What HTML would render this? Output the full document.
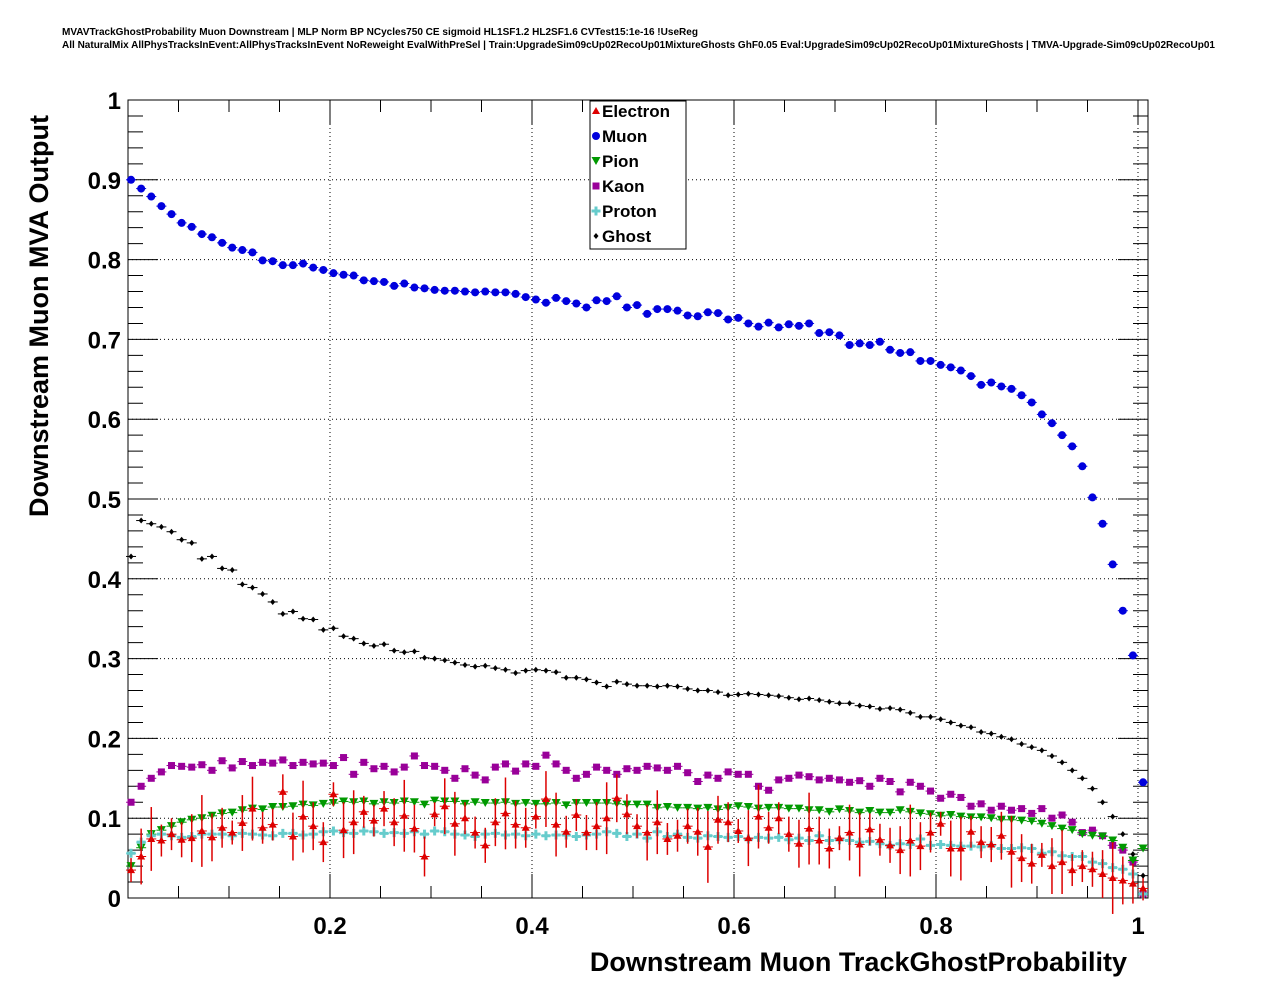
<!DOCTYPE html>
<html><head><meta charset="utf-8"><style>
body{margin:0;background:#fff;font-family:"Liberation Sans",sans-serif}
svg text{font-family:"Liberation Sans",sans-serif;font-weight:bold}
</style></head><body>
<svg id="c" width="1276" height="996" viewBox="0 0 1276 996">
<text x="62" y="35" font-size="10" textLength="636" lengthAdjust="spacingAndGlyphs">MVAVTrackGhostProbability Muon Downstream | MLP Norm BP NCycles750 CE sigmoid HL1SF1.2 HL2SF1.6 CVTest15:1e-16 !UseReg</text>
<text x="62" y="48" font-size="10" textLength="1153" lengthAdjust="spacingAndGlyphs">All NaturalMix AllPhysTracksInEvent:AllPhysTracksInEvent NoReweight EvalWithPreSel | Train:UpgradeSim09cUp02RecoUp01MixtureGhosts GhF0.05 Eval:UpgradeSim09cUp02RecoUp01MixtureGhosts | TMVA-Upgrade-Sim09cUp02RecoUp01</text>
<g id="grid"></g><g id="axes"></g><g id="marks"></g>
<text x="1127" y="971" font-size="27" text-anchor="end">Downstream Muon TrackGhostProbability</text>
<text transform="translate(48,517) rotate(-90)" font-size="27">Downstream Muon MVA Output</text>
<g>
<rect x="590" y="101" width="96" height="148" fill="#fff" stroke="#000" stroke-width="1"/>
<g id="leg"></g></g>
</svg>
<script>
const xTicks=[0.2,0.4,0.6,0.8,1];
const xTickLabels=["0.2","0.4","0.6","0.8","1"];
const yTicks=[0,0.1,0.2,0.3,0.4,0.5,0.6,0.7,0.8,0.9,1];
const yTickLabels=["0","0.1","0.2","0.3","0.4","0.5","0.6","0.7","0.8","0.9","1"];
const muon=[0.90,0.889,0.879,0.867,0.857,0.846,0.841,0.832,0.828,0.821,0.815,0.812,0.809,0.799,0.798,0.793,0.793,0.795,0.790,0.787,0.783,0.781,0.780,0.774,0.773,0.772,0.767,0.770,0.765,0.764,0.762,0.761,0.761,0.760,0.759,0.760,0.759,0.759,0.757,0.753,0.750,0.746,0.752,0.748,0.745,0.740,0.749,0.748,0.754,0.740,0.743,0.732,0.738,0.738,0.736,0.730,0.729,0.734,0.733,0.725,0.727,0.720,0.716,0.721,0.715,0.719,0.717,0.720,0.708,0.709,0.705,0.693,0.695,0.693,0.697,0.687,0.683,0.684,0.673,0.673,0.668,0.665,0.661,0.654,0.643,0.646,0.641,0.638,0.630,0.621,0.606,0.595,0.580,0.566,0.541,0.502,0.469,0.418,0.360,0.304,0.145];
const ghost=[0.428,0.473,0.469,0.465,0.459,0.449,0.445,0.425,0.428,0.413,0.411,0.393,0.389,0.381,0.371,0.356,0.359,0.350,0.349,0.336,0.338,0.328,0.325,0.319,0.316,0.318,0.310,0.308,0.309,0.301,0.300,0.298,0.295,0.292,0.290,0.291,0.288,0.286,0.282,0.285,0.286,0.285,0.283,0.276,0.276,0.274,0.270,0.265,0.271,0.268,0.266,0.266,0.265,0.266,0.265,0.262,0.260,0.260,0.258,0.254,0.255,0.256,0.255,0.254,0.253,0.251,0.249,0.250,0.248,0.246,0.244,0.244,0.241,0.240,0.237,0.238,0.236,0.232,0.227,0.227,0.224,0.220,0.216,0.214,0.208,0.206,0.202,0.199,0.193,0.189,0.185,0.178,0.170,0.160,0.150,0.137,0.120,0.102,0.080,0.055,0.028];
const kaon=[0.120,0.140,0.150,0.158,0.166,0.165,0.164,0.167,0.160,0.172,0.163,0.171,0.166,0.170,0.169,0.173,0.166,0.170,0.168,0.169,0.166,0.176,0.155,0.170,0.162,0.165,0.158,0.164,0.178,0.166,0.165,0.160,0.150,0.162,0.154,0.148,0.164,0.168,0.159,0.168,0.165,0.179,0.168,0.160,0.150,0.155,0.164,0.160,0.155,0.162,0.160,0.165,0.163,0.160,0.165,0.157,0.146,0.154,0.150,0.158,0.155,0.155,0.140,0.135,0.148,0.150,0.154,0.152,0.148,0.150,0.148,0.145,0.147,0.140,0.150,0.146,0.133,0.145,0.140,0.134,0.125,0.130,0.126,0.115,0.118,0.110,0.115,0.110,0.112,0.106,0.112,0.100,0.104,0.095,0.082,0.085,0.078,0.066,0.060,0.045,0.005];
const pion=[0.040,0.063,0.080,0.085,0.090,0.095,0.098,0.100,0.103,0.106,0.107,0.110,0.112,0.111,0.114,0.114,0.115,0.117,0.116,0.118,0.119,0.121,0.120,0.121,0.118,0.120,0.119,0.121,0.120,0.117,0.122,0.121,0.121,0.118,0.120,0.119,0.119,0.120,0.118,0.119,0.118,0.118,0.119,0.116,0.119,0.119,0.119,0.119,0.118,0.117,0.117,0.117,0.113,0.114,0.113,0.113,0.112,0.113,0.111,0.113,0.115,0.114,0.112,0.113,0.113,0.112,0.112,0.110,0.110,0.108,0.111,0.109,0.107,0.109,0.107,0.107,0.110,0.108,0.106,0.105,0.103,0.104,0.102,0.101,0.101,0.100,0.098,0.098,0.097,0.096,0.093,0.090,0.087,0.085,0.080,0.078,0.077,0.072,0.063,0.047,0.062];
const proton=[0.056,0.070,0.078,0.080,0.078,0.076,0.077,0.080,0.080,0.080,0.078,0.081,0.080,0.079,0.078,0.081,0.081,0.079,0.080,0.083,0.084,0.082,0.081,0.084,0.083,0.081,0.082,0.081,0.083,0.080,0.084,0.083,0.080,0.079,0.077,0.080,0.081,0.079,0.080,0.078,0.080,0.078,0.079,0.079,0.077,0.079,0.080,0.083,0.081,0.077,0.080,0.075,0.083,0.077,0.080,0.076,0.075,0.078,0.077,0.076,0.077,0.074,0.076,0.075,0.076,0.073,0.075,0.072,0.078,0.072,0.073,0.072,0.070,0.071,0.068,0.066,0.068,0.067,0.074,0.066,0.067,0.066,0.065,0.065,0.064,0.066,0.062,0.062,0.063,0.062,0.056,0.058,0.053,0.052,0.052,0.045,0.043,0.038,0.036,0.030,0.005];
const electron=[0.035,0.052,0.074,0.072,0.080,0.073,0.075,0.084,0.076,0.088,0.082,0.094,0.112,0.088,0.092,0.133,0.077,0.102,0.090,0.070,0.130,0.085,0.095,0.108,0.097,0.112,0.095,0.103,0.087,0.052,0.105,0.115,0.093,0.100,0.082,0.066,0.095,0.106,0.092,0.088,0.102,0.124,0.092,0.083,0.104,0.082,0.090,0.100,0.125,0.105,0.090,0.082,0.095,0.074,0.078,0.090,0.083,0.064,0.098,0.095,0.084,0.075,0.102,0.088,0.100,0.080,0.068,0.087,0.072,0.062,0.075,0.082,0.067,0.086,0.073,0.066,0.060,0.072,0.065,0.082,0.093,0.062,0.062,0.083,0.070,0.067,0.078,0.058,0.050,0.043,0.054,0.040,0.045,0.035,0.040,0.036,0.030,0.025,0.022,0.018,0.012];
const electronErr=[0.015,0.02,0.03,0.025,0.04,0.022,0.03,0.035,0.02,0.045];
const x0=0.003, binW=0.01002;
const L=128,R=1148,T=100,B=898;
const X=v=>L+v*1010, Y=v=>B-v*(B-T);
const NS="http://www.w3.org/2000/svg";
function mk(tag,at,parent){const e=document.createElementNS(NS,tag);for(const k in at)e.setAttribute(k,at[k]);parent.appendChild(e);return e;}
const grid=document.getElementById('grid'),axes=document.getElementById('axes'),marks=document.getElementById('marks');
xTicks.forEach((t,i)=>{
 const g=mk('line',{x1:X(t),x2:X(t),y1:T,y2:B,stroke:'#000','stroke-dasharray':'1,3','stroke-width':1},grid);
 
 const tx=mk('text',{x:X(t),y:934,'font-size':24,'text-anchor':'middle'},axes);tx.textContent=xTickLabels[i];
 
});
yTicks.forEach((t,i)=>{
 if(t>0&&t<1){const g=mk('line',{x1:L,x2:R,y1:Y(t),y2:Y(t),stroke:'#000','stroke-dasharray':'1,3','stroke-width':1},grid);
 }
 const tx=mk('text',{x:121,y:Y(t)+9,'font-size':24,'text-anchor':'end'},axes);tx.textContent=yTickLabels[i];
 
});
let p='';
for(let v=0.05;v<1.01;v+=0.05){const big=Math.abs(v*5-Math.round(v*5))<1e-6;p+=`M${X(v)},${B}v${big?-24:-12}M${X(v)},${T}v${big?24:12}`;}
for(let v=0;v<=1.0001;v+=0.02){const big=Math.abs(v*10-Math.round(v*10))<1e-6;p+=`M${L},${Y(v)}h${big?30:15}M${R},${Y(v)}h${big?-30:-15}`;}
const tk=mk('path',{d:p,stroke:'#000','stroke-width':1,fill:'none'},axes);

const fr=mk('rect',{x:L,y:T,width:R-L,height:B-T,fill:'none',stroke:'#000','stroke-width':1},axes);

function marker(type,cx,cy,col,par){
 if(type==='circle')return mk('circle',{cx,cy,r:4,fill:col},par);
 if(type==='tri')return mk('path',{d:`M${cx},${cy-4}L${cx+4},${cy+3}L${cx-4},${cy+3}Z`,fill:col},par);
 if(type==='tridown')return mk('path',{d:`M${cx-4.5},${cy-4}L${cx+4.5},${cy-4}L${cx},${cy+4}Z`,fill:col},par);
 if(type==='square')return mk('rect',{x:cx-3.5,y:cy-3.5,width:7,height:7,fill:col},par);
 if(type==='cross')return mk('path',{d:`M${cx-1.5},${cy-4.5}h3v3h3v3h-3v3h-3v-3h-3v-3h3z`,fill:col},par);
 return mk('path',{d:`M${cx},${cy-3}L${cx+2.5},${cy}L${cx},${cy+3}L${cx-2.5},${cy}Z`,fill:col},par);
}
const series=[
 {name:'kaon',data:kaon,col:'#990099',m:'square',err:null},
 {name:'pion',data:pion,col:'#009900',m:'tridown',err:null},
 {name:'proton',data:proton,col:'#66cccc',m:'cross',err:null},
 {name:'electron',data:electron,col:'#dd0000',m:'tri',err:electronErr},
 {name:'ghost',data:ghost,col:'#000000',m:'diamond',err:null},
 {name:'muon',data:muon,col:'#0000dd',m:'circle',err:null}];
series.forEach(s=>{
 const g=mk('g',{},marks);
 s.data.forEach((v,i)=>{
  const xc=X(x0+binW*i),yc=Y(v);
  mk('line',{x1:xc-5,x2:xc+5,y1:yc,y2:yc,stroke:s.col,'stroke-width':1},g);
  if(s.err){const e=s.err[(i*7)%s.err.length];mk('line',{x1:xc,x2:xc,y1:Y(v+e),y2:Y(v-e),stroke:s.col,'stroke-width':1.5},g);}
  const m=marker(s.m,xc,yc,s.col,g);
  
 });
});
const leg=document.getElementById('leg');
[['Electron','#dd0000','tri'],['Muon','#0000dd','circle'],['Pion','#009900','tridown'],['Kaon','#990099','square'],['Proton','#66cccc','cross'],['Ghost','#000','diamond']].forEach((e,i)=>{
 const y=111+i*25;
 const g=mk('g',{},leg);
 marker(e[2],596,y,e[1],g);
 const t=mk('text',{x:602,y:y+6,'font-size':17},g);t.textContent=e[0];
});
</script>
</body></html>
